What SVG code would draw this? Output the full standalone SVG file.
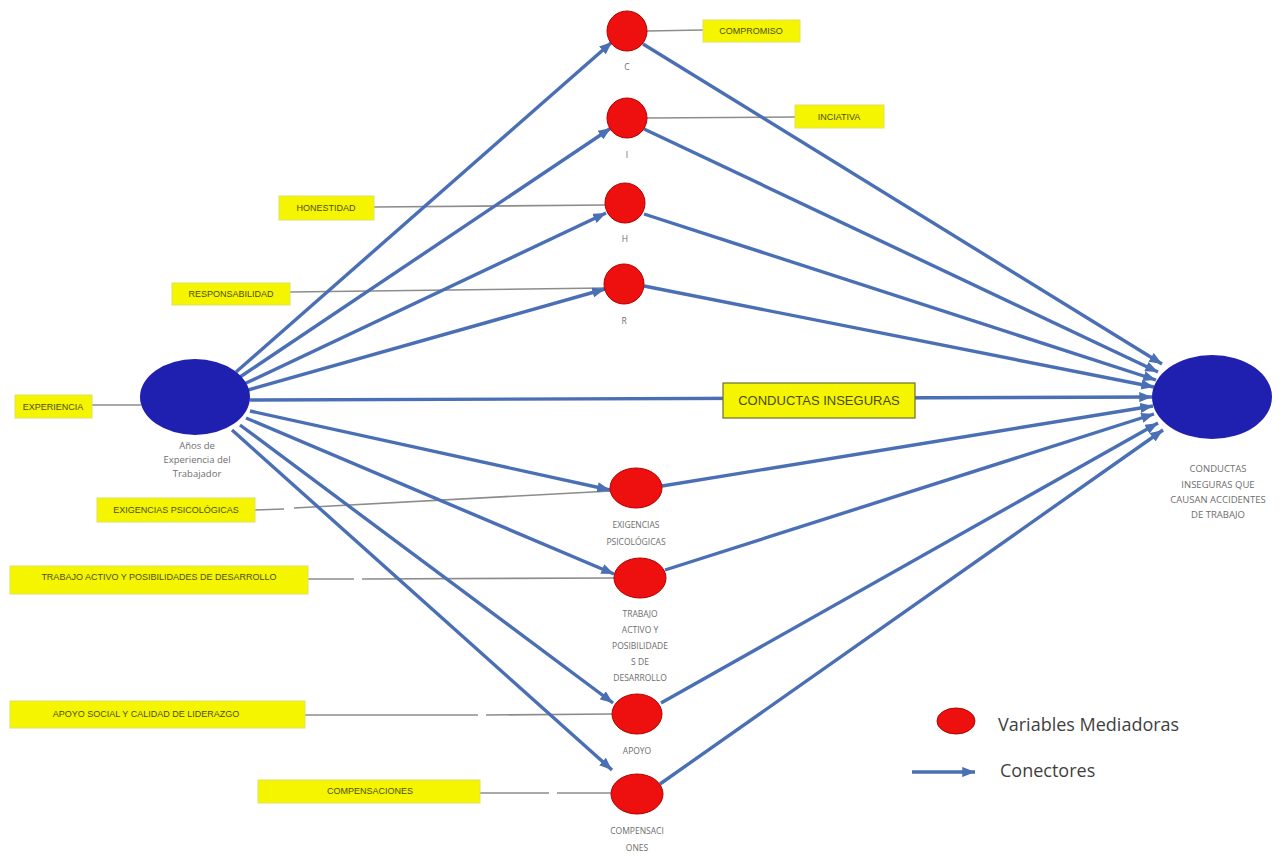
<svg xmlns="http://www.w3.org/2000/svg" width="1286" height="856" viewBox="0 0 1286 856">
  <style>
    .arrow { stroke: #4a6fb5; stroke-width: 3.4; fill: none; marker-end: url(#head); }
    .thin { stroke: #8c8c8c; stroke-width: 1.6; fill: none; }
    .med { fill: #ee0f0f; stroke: #b30000; stroke-width: 1; }
    .big { fill: #1f1fb0; }
    .tag { fill: #f5f500; stroke: #e0e060; stroke-width: 1; }
    .tagtext { font-family: "Liberation Sans", Arial, sans-serif; font-size: 9px; fill: #4d4d14; text-anchor: middle; }
    .lbl { font-family: "Open Sans", "Liberation Sans", sans-serif; font-size: 8.5px; fill: #6e6e6e; text-anchor: middle; }
    .lbl2 { font-family: "Open Sans", "Liberation Sans", sans-serif; font-size: 9.5px; fill: #6e6e6e; text-anchor: middle; }
    .legend { font-family: "Open Sans", "Liberation Sans", sans-serif; font-size: 18px; fill: #3f3f3f; }
  </style>
  <defs>
    <marker id="head" viewBox="0 0 10 8" refX="10" refY="4" markerWidth="3.8" markerHeight="3" orient="auto" markerUnits="strokeWidth">
      <path d="M0,0 L10,4 L0,8 Z" fill="#4a6fb5"/>
    </marker>
  </defs>
  <rect width="1286" height="856" fill="#ffffff"/>

  <!-- thin leader lines from the yellow tags -->
  <g id="leaders">
    <line class="thin" x1="647" y1="31" x2="703" y2="30"/>
    <line class="thin" x1="647" y1="118" x2="795" y2="117"/>
    <line class="thin" x1="374" y1="207" x2="606" y2="205"/>
    <line class="thin" x1="290" y1="292" x2="604" y2="288"/>
    <line class="thin" x1="92" y1="405" x2="141" y2="405"/>
    <line class="thin" x1="255" y1="510" x2="284" y2="509"/>
    <line class="thin" x1="294" y1="508" x2="611" y2="491"/>
    <line class="thin" x1="308" y1="579" x2="354" y2="579"/>
    <line class="thin" x1="362" y1="579" x2="615" y2="578"/>
    <line class="thin" x1="305" y1="715" x2="478" y2="715"/>
    <line class="thin" x1="486" y1="715" x2="612" y2="714"/>
    <line class="thin" x1="480" y1="793" x2="549" y2="793"/>
    <line class="thin" x1="557" y1="793" x2="611" y2="793"/>
  </g>

  <!-- blue connectors -->
  <g id="connectors">
    <line class="arrow" x1="236" y1="372" x2="612" y2="42"/>
    <line class="arrow" x1="240" y1="377" x2="611" y2="128"/>
    <line class="arrow" x1="244" y1="384" x2="606" y2="213"/>
    <line class="arrow" x1="248" y1="390" x2="605" y2="289"/>
    <line class="arrow" x1="250" y1="411" x2="610" y2="490"/>
    <line class="arrow" x1="246" y1="418" x2="614" y2="574"/>
    <line class="arrow" x1="240" y1="425" x2="613" y2="703"/>
    <line class="arrow" x1="232" y1="430" x2="612" y2="770"/>

    <line class="arrow" x1="643" y1="44" x2="1162" y2="364"/>
    <line class="arrow" x1="644" y1="129" x2="1158" y2="372"/>
    <line class="arrow" x1="644" y1="214" x2="1156" y2="380"/>
    <line class="arrow" x1="644" y1="286" x2="1154" y2="387"/>
    <line class="arrow" x1="250" y1="400" x2="1152" y2="397"/>
    <line class="arrow" x1="662" y1="486" x2="1153" y2="406"/>
    <line class="arrow" x1="665" y1="570" x2="1154" y2="414"/>
    <line class="arrow" x1="661" y1="703" x2="1158" y2="423"/>
    <line class="arrow" x1="660" y1="784" x2="1163" y2="430"/>
  </g>

  <!-- source node -->
  <g id="node-experiencia">
    <ellipse class="big" cx="195" cy="397" rx="55" ry="38"/>
    <text class="lbl2" x="197" y="449">Años de</text>
    <text class="lbl2" x="197" y="463">Experiencia del</text>
    <text class="lbl2" x="197" y="477">Trabajador</text>
    <rect class="tag" x="15" y="395" width="77" height="23"/>
    <text class="tagtext" x="53" y="410">EXPERIENCIA</text>
  </g>

  <!-- target node -->
  <g id="node-conductas">
    <ellipse class="big" cx="1212" cy="397" rx="60" ry="42"/>
    <text class="lbl2" x="1218" y="472">CONDUCTAS</text>
    <text class="lbl2" x="1218" y="488">INSEGURAS QUE</text>
    <text class="lbl2" x="1218" y="503">CAUSAN ACCIDENTES</text>
    <text class="lbl2" x="1218" y="518">DE TRABAJO</text>
  </g>

  <g id="tag-conductas-inseguras">
    <rect x="723" y="383" width="192" height="35" fill="#f5f500" stroke="#6b6b30" stroke-width="1.2"/>
    <text x="819" y="405" font-family="'Liberation Sans', Arial, sans-serif" font-size="13" fill="#4a4a10" text-anchor="middle">CONDUCTAS INSEGURAS</text>
  </g>

  <!-- mediator nodes -->
  <g id="node-c">
    <circle class="med" cx="627" cy="31" r="20"/>
    <text class="lbl" x="627" y="70">C</text>
    <rect class="tag" x="703" y="20" width="97" height="22"/>
    <text class="tagtext" x="751" y="34">COMPROMISO</text>
  </g>
  <g id="node-i">
    <circle class="med" cx="627" cy="118" r="20"/>
    <text class="lbl" x="627" y="158">I</text>
    <rect class="tag" x="795" y="105" width="89" height="23"/>
    <text class="tagtext" x="839" y="120">INCIATIVA</text>
  </g>
  <g id="node-h">
    <circle class="med" cx="625" cy="203" r="20"/>
    <text class="lbl" x="625" y="242">H</text>
    <rect class="tag" x="279" y="196" width="95" height="24"/>
    <text class="tagtext" x="326" y="211">HONESTIDAD</text>
  </g>
  <g id="node-r">
    <circle class="med" cx="624" cy="284" r="20"/>
    <text class="lbl" x="624" y="324">R</text>
    <rect class="tag" x="172" y="283" width="118" height="22"/>
    <text class="tagtext" x="231" y="297">RESPONSABILIDAD</text>
  </g>
  <g id="node-exigencias">
    <ellipse class="med" cx="636" cy="488" rx="26" ry="20"/>
    <text class="lbl" x="636" y="528">EXIGENCIAS</text>
    <text class="lbl" x="636" y="545">PSICOLÓGICAS</text>
    <rect class="tag" x="97" y="498" width="158" height="24"/>
    <text class="tagtext" x="176" y="513">EXIGENCIAS PSICOLÓGICAS</text>
  </g>
  <g id="node-trabajo">
    <ellipse class="med" cx="640" cy="578" rx="26" ry="20"/>
    <text class="lbl" x="640" y="617">TRABAJO</text>
    <text class="lbl" x="640" y="633">ACTIVO Y</text>
    <text class="lbl" x="640" y="649">POSIBILIDADE</text>
    <text class="lbl" x="640" y="665">S DE</text>
    <text class="lbl" x="640" y="681">DESARROLLO</text>
    <rect class="tag" x="10" y="566" width="298" height="28"/>
    <text class="tagtext" x="159" y="580">TRABAJO ACTIVO Y POSIBILIDADES DE DESARROLLO</text>
  </g>
  <g id="node-apoyo">
    <ellipse class="med" cx="637" cy="714" rx="25" ry="20"/>
    <text class="lbl" x="637" y="754">APOYO</text>
    <rect class="tag" x="10" y="701" width="295" height="27"/>
    <text class="tagtext" x="146" y="717">APOYO SOCIAL Y CALIDAD DE LIDERAZGO</text>
  </g>
  <g id="node-compensaciones">
    <ellipse class="med" cx="637" cy="794" rx="26" ry="20"/>
    <text class="lbl" x="637" y="834">COMPENSACI</text>
    <text class="lbl" x="637" y="851">ONES</text>
    <rect class="tag" x="258" y="780" width="222" height="23"/>
    <text class="tagtext" x="370" y="794">COMPENSACIONES</text>
  </g>

  <!-- legend -->
  <g id="legend">
    <ellipse class="med" cx="956" cy="721" rx="19" ry="13"/>
    <text class="legend" x="998" y="731">Variables Mediadoras</text>
    <line class="arrow" x1="912" y1="772" x2="975" y2="772"/>
    <text class="legend" x="1000" y="777">Conectores</text>
  </g>
</svg>
